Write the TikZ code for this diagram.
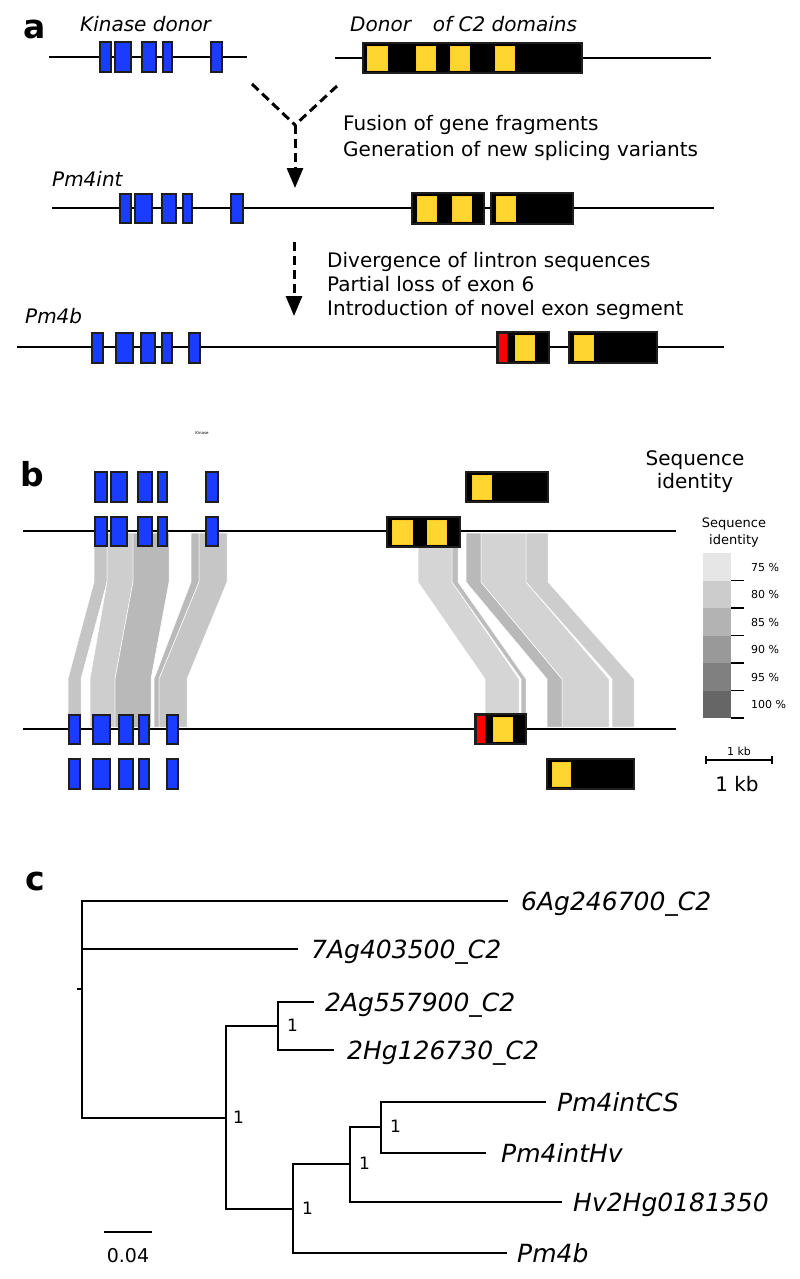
\documentclass[tikz,border=0pt]{standalone}
\usepackage{fontspec}
\setmainfont{DejaVu Sans}
\usetikzlibrary{arrows.meta}
\definecolor{exonblue}{RGB}{26, 60, 255}
\definecolor{domyellow}{RGB}{255, 214, 48}
\definecolor{novelred}{RGB}{255, 0, 0}
\definecolor{boxline}{RGB}{30, 30, 30}

\begin{document}
\begin{tikzpicture}[x=1pt, y=-1pt,
  gene/.style={line width=2pt},
  kexon/.style={draw=boxline, fill=exonblue, line width=2pt},
  cbox/.style={draw=boxline, fill=black, line width=2pt},
  cdom/.style={draw=domyellow!85!orange, fill=domyellow, line width=0.6pt},
  nexon/.style={draw=boxline, fill=novelred, line width=0.8pt},
  band/.style={draw=white, line width=0.5pt},
  genelabel/.style={font=\fontsize{20}{24}\selectfont\itshape, anchor=base west, inner sep=0pt},
  note/.style={font=\fontsize{20}{24}\selectfont, anchor=base west, inner sep=0pt},
  panel/.style={font=\fontsize{33}{36}\selectfont\bfseries, anchor=base west, inner sep=0pt},
  flow/.style={dash pattern=on 9pt off 5pt, line width=3pt},
  branch/.style={line width=2pt},
  leaf/.style={font=\fontsize{25}{30}\selectfont\itshape, anchor=base west, inner sep=0pt, xshift=13pt, yshift=-9pt},
  boot/.style={font=\fontsize{17}{20}\selectfont, anchor=west, inner sep=0pt, xshift=9pt, yshift=1pt}]
\useasboundingbox (0,0) rectangle (800,1279);

% ---------------- panel a ----------------
\node[panel] (pa) at (23,39) {a};

% Kinase donor
\node[genelabel] (kinlab) at (80,32) {Kinase donor};
\draw[gene] (49,57) -- (247,57);
\foreach \a/\b in {100/111, 115/131, 142/156, 163/172, 211/222}
  \draw[kexon] (\a,42) rectangle (\b,72);

% Donor of C2 domains
\node[genelabel] (donlab) at (350,32) {Donor\hspace{22pt}of C2 domains};
\draw[gene] (335,58) -- (711,58);
\draw[cbox] (363,43) rectangle (582,73);
\foreach \a/\b in {367/387, 416/435, 450/469, 495/514}
  \draw[cdom] (\a,46) rectangle (\b,70);

% Fusion arrow
\coordinate (kin) at (252,84);
\coordinate (dom) at (337,86);
\coordinate (fuse) at (295,125);
\coordinate (fusetip) at (295,188);
\draw[flow] (kin) -- (fuse);
\draw[flow] (dom) -- (fuse);
\draw[flow, -{Triangle[length=20pt, width=16pt]}] (fuse) -- (fusetip);
\node[note] (fus1) at (343,131) {Fusion of gene fragments};
\node[note] (fus2) at (343,156) {Generation of new splicing variants};

% Pm4int
\node[genelabel] (intlab) at (52,186) {Pm4int};
\draw[gene] (52,208) -- (714,208);
\foreach \a/\b in {120/131, 135/152, 162/176, 183/192, 231/243}
  \draw[kexon] (\a,194) rectangle (\b,223);
\draw[cbox] (412,193) rectangle (484,224);
\draw[cbox] (491,193) rectangle (573,224);
\foreach \a/\b in {417/436, 452/471, 496/515}
  \draw[cdom] (\a,196) rectangle (\b,221);

% Divergence arrow
\coordinate (divtop) at (294,242);
\coordinate (divtip) at (294,316);
\draw[flow, -{Triangle[length=20pt, width=16pt]}] (divtop) -- (divtip);
\node[note] (div1) at (327,267) {Divergence of lintron sequences};
\node[note] (div2) at (327,291) {Partial loss of exon 6};
\node[note] (div3) at (327,315) {Introduction of novel exon segment};

% Pm4b
\node[genelabel] (pm4blab) at (25,323) {Pm4b};
\draw[gene] (17,347) -- (724,347);
\foreach \a/\b in {92/103, 116/133, 141/155, 162/172, 189/200}
  \draw[kexon] (\a,333) rectangle (\b,363);
\draw[cbox] (497,332) rectangle (549,363);
\draw[cbox] (569,332) rectangle (657,363);
\draw[nexon] (498,333) rectangle (507,362);
\foreach \a/\b in {515/534, 574/593}
  \draw[cdom] (\a,335) rectangle (\b,360);

% ---------------- panel b ----------------
\node[panel] (pb) at (20,486) {b};
\node[font=\fontsize{4}{5}\selectfont] (kinsmall) at (202,433) {Kinase};

% identity bands
\foreach \a/\b/\c/\d/\g in {94/107/68/81/197, 107/133/90/115/206, 133/169/115/151/185,
    191/199/154/159/186, 199/227/159/187/198, 418/452/485/519/213, 452/458/521/526/189,
    466/481/547/562/185, 481/526/562/609/211, 526/548/612/634/205}
  \filldraw[band, fill={rgb,255:red,\g;green,\g;blue,\g}]
    (\a,533) -- (\a,582) -- (\c,679) -- (\c,727) -- (\d,727) -- (\d,679) -- (\b,582) -- (\b,533) -- cycle;

% upper locus
\draw[gene] (23,531) -- (676,531);
\foreach \a/\b in {95/107, 111/127, 138/152, 158/167, 206/218} {
  \draw[kexon] (\a,472) rectangle (\b,502);
  \draw[kexon] (\a,517) rectangle (\b,546);
}
\draw[cbox] (466,472) rectangle (548,502);
\draw[cdom] (472,475) rectangle (491,499);
\draw[cbox] (387,517) rectangle (460,547);
\foreach \a/\b in {392/412, 427/446}
  \draw[cdom] (\a,520) rectangle (\b,544);

% lower locus
\draw[gene] (23,729) -- (676,729);
\foreach \a/\b in {69/80, 93/110, 119/133, 139/149, 167/178} {
  \draw[kexon] (\a,715) rectangle (\b,744);
  \draw[kexon] (\a,759) rectangle (\b,789);
}
\draw[cbox] (475,714) rectangle (526,744);
\draw[nexon] (476,715) rectangle (485,743);
\draw[cdom] (493,717) rectangle (512,741);
\draw[cbox] (547,759) rectangle (634,789);
\draw[cdom] (552,762) rectangle (570,786);

% legend
\node[font=\fontsize{20}{24}\selectfont, anchor=base] (seqbig1) at (695,465) {Sequence};
\node[font=\fontsize{20}{24}\selectfont, anchor=base] (seqbig2) at (695,488) {identity};
\node[font=\fontsize{13}{16}\selectfont, anchor=base] (seqsm1) at (734,527) {Sequence};
\node[font=\fontsize{13}{16}\selectfont, anchor=base] (seqsm2) at (734,544) {identity};
\foreach \i/\g/\p in {0/230/75, 1/204/80, 2/179/85, 3/153/90, 4/128/95, 5/102/100} {
  \fill[fill={rgb,255:red,\g;green,\g;blue,\g}] (703,553+27.5*\i) rectangle (731,580.5+27.5*\i);
  \draw[line width=1.5pt] (731,580.5+27.5*\i) -- (744,580.5+27.5*\i);
  \node[font=\fontsize{11}{13}\selectfont, anchor=base west, inner sep=0pt] at (751,571+27.5*\i) {\p\ \%};
}

% scale bar
\coordinate (kbl) at (706,760);
\coordinate (kbr) at (772,760);
\draw[line width=1.4pt] (kbl) -- (kbr);
\draw[line width=1.4pt] ([yshift=-4pt]kbl) -- ([yshift=4pt]kbl);
\draw[line width=1.4pt] ([yshift=-4pt]kbr) -- ([yshift=4pt]kbr);
\node[font=\fontsize{11}{13}\selectfont, anchor=base] (kbsm) at (739,755) {1 kb};
\node[font=\fontsize{20}{24}\selectfont, anchor=base] (kbbig) at (737,791) {1 kb};

% ---------------- panel c ----------------
\node[panel] (pc) at (25,890) {c};

% internal nodes
\coordinate (root) at (82,989);
\coordinate (nA) at (226,1118);
\coordinate (nB) at (278,1026);
\coordinate (nC) at (293,1209);
\coordinate (nD) at (350,1164);
\coordinate (nE) at (381,1127);

% leaf tips
\coordinate (t6Ag) at (508,901);
\coordinate (t7Ag) at (298,949);
\coordinate (t2Ag) at (314,1002);
\coordinate (t2Hg) at (334,1050);
\coordinate (tCS) at (546,1102);
\coordinate (tHv) at (486,1153);
\coordinate (tHv2) at (562,1202);
\coordinate (tPm4b) at (507,1253);

% branches
\draw[branch] (root) -- ++(-5,0);
\draw[branch] (root) |- (t6Ag);
\draw[branch] (root) |- (t7Ag);
\draw[branch] (root) |- (nA);
\draw[branch] (nA) |- (nB);
\draw[branch] (nA) |- (nC);
\draw[branch] (nB) |- (t2Ag);
\draw[branch] (nB) |- (t2Hg);
\draw[branch] (nC) |- (nD);
\draw[branch] (nC) |- (tPm4b);
\draw[branch] (nD) |- (nE);
\draw[branch] (nD) |- (tHv2);
\draw[branch] (nE) |- (tCS);
\draw[branch] (nE) |- (tHv);

% leaf labels
\node[leaf] (l6Ag) at (t6Ag) {6Ag246700\_C2};
\node[leaf] (l7Ag) at (t7Ag) {7Ag403500\_C2};
\node[leaf, xshift=-2pt] (l2Ag) at (t2Ag) {2Ag557900\_C2};
\node[leaf] (l2Hg) at (t2Hg) {2Hg126730\_C2};
\node[leaf, xshift=-2pt] (lCS) at (tCS) {Pm4intCS};
\node[leaf, xshift=2pt] (lHv) at (tHv) {Pm4intHv};
\node[leaf, xshift=-2pt] (lHv2) at (tHv2) {Hv2Hg0181350};
\node[leaf, xshift=-3pt] (lPm4b) at (tPm4b) {Pm4b};

% support values
\node[boot, xshift=-2pt] (bA) at (nA) {1};
\node[boot] (bB) at (nB) {1};
\node[boot] (bC) at (nC) {1};
\node[boot] (bD) at (nD) {1};
\node[boot] (bE) at (nE) {1};

% scale
\coordinate (sbl) at (104,1232);
\coordinate (sbr) at (152,1232);
\draw[branch] (sbl) -- (sbr);
\node[font=\fontsize{19}{22}\selectfont, anchor=base] (sblab) at (128,1262) {0.04};
\end{tikzpicture}
\end{document}
